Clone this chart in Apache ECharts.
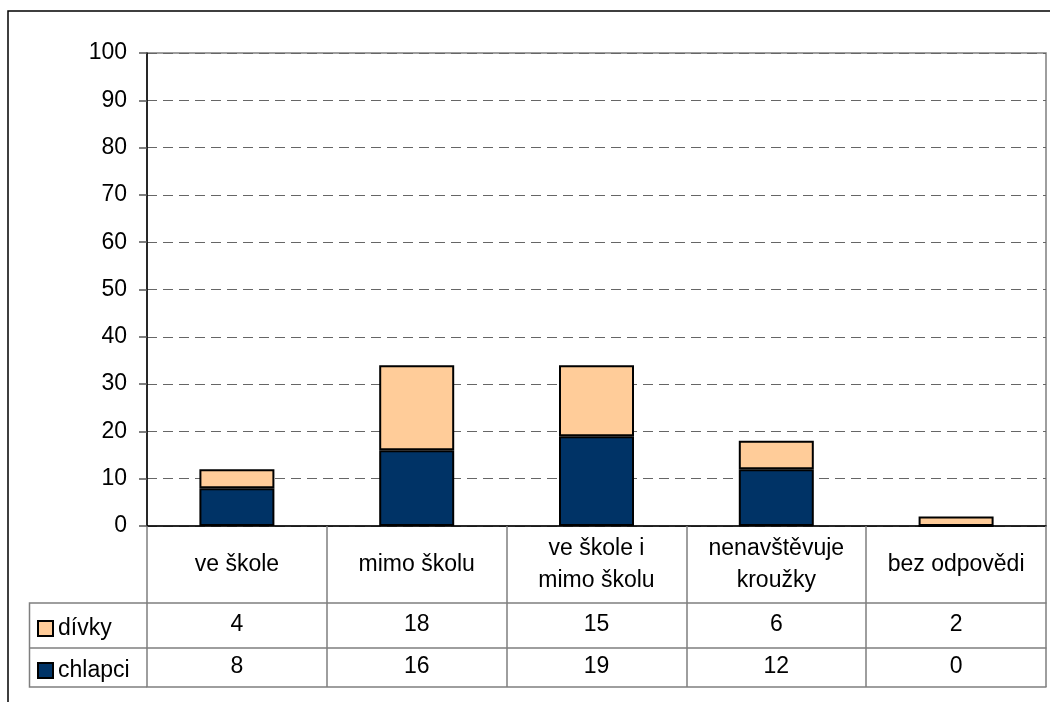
<!DOCTYPE html>
<html>
<head>
<meta charset="utf-8">
<script src="https://cdn.jsdelivr.net/npm/echarts@6/dist/echarts.min.js"></script>
<style>html,body{margin:0;padding:0;background:#fff}#c{width:1050px;height:702px}</style>
</head>
<body>
<div id="c"></div>
<script>
var categories = ['ve škole', 'mimo školu', 've škole i\nmimo školu', 'nenavštěvuje\nkroužky', 'bez odpovědi'];
var divky = [4, 18, 15, 6, 2];
var chlapci = [8, 16, 19, 12, 0];
var yTicks = {min: 0, max: 100, interval: 10};

var FONT = 'Liberation Sans, Arial, sans-serif';
var FS = 23;
var chart = echarts.init(document.getElementById('c'));
var gray = '#7f7f7f';

function tableAxis(offset, labels, margin, showLine) {
  return {
    type: 'category', gridIndex: 0, position: 'bottom', offset: offset,
    data: categories,
    axisLine: {show: showLine, lineStyle: {color: gray, width: 1.5}},
    axisTick: {show: false},
    axisLabel: labels ? {
      show: true, interval: 0, margin: margin, verticalAlign: 'middle',
      fontFamily: FONT, fontSize: FS, color: '#000',
      formatter: function (v, i) { return String(labels[i]); }
    } : {show: false},
    splitLine: {show: false}
  };
}

chart.setOption({
  animation: false,
  backgroundColor: '#fff',
  grid: {left: 147, right: 4, top: 53, bottom: 176, show: true, borderColor: gray, borderWidth: 1.5, containLabel: false},
  legend: {
    orient: 'vertical', left: 32, top: 612, itemGap: 19, padding: 5,
    itemWidth: 15, itemHeight: 15, icon: 'rect',
    data: ['dívky', 'chlapci'],
    textStyle: {fontFamily: FONT, fontSize: FS, color: '#000', padding: [0, 0, 0, 0]},
    selectedMode: false
  },
  xAxis: [
    {
      type: 'category', gridIndex: 0, position: 'bottom', data: categories,
      axisLine: {show: true, lineStyle: {color: '#000', width: 1.5}},
      axisTick: {show: true, interval: 0, length: 161, lineStyle: {color: gray, width: 1.5}},
      axisLabel: {show: true, interval: 0, margin: 39, verticalAlign: 'middle', fontFamily: FONT, fontSize: FS, color: '#000', lineHeight: 32, align: 'center'},
      splitLine: {show: false}
    },
    tableAxis(77, divky, 22, true),
    tableAxis(122, chlapci, 19, true),
    tableAxis(161, null, 0, true)
  ],
  yAxis: {
    type: 'value', min: yTicks.min, max: yTicks.max, interval: yTicks.interval,
    axisLine: {show: true, lineStyle: {color: '#000', width: 1.5}},
    axisTick: {show: true, length: 8, lineStyle: {color: '#555', width: 1.5}},
    axisLabel: {fontFamily: FONT, fontSize: FS, color: '#000', margin: 20},
    splitLine: {show: true, lineStyle: {color: '#666', width: 1, type: [10, 6]}}
  },
  series: [
    {
      name: 'chlapci', type: 'bar', stack: 's', data: chlapci, barWidth: 75,
      itemStyle: {color: '#003366', borderColor: '#000', borderWidth: 2}
    },
    {
      name: 'dívky', type: 'bar', stack: 's', data: divky, barWidth: 75,
      itemStyle: {color: '#FFCC99', borderColor: '#000', borderWidth: 2}
    }
  ],
  graphic: [
    {type: 'rect', shape: {x: 8, y: 11, width: 1200, height: 900}, style: {fill: 'none', stroke: '#000', lineWidth: 1.5}, z: 0},
    {type: 'polyline', shape: {points: [[147, 603], [29.5, 603], [29.5, 687], [147, 687]]}, style: {fill: 'none', stroke: gray, lineWidth: 1.5}},
    {type: 'line', shape: {x1: 29.5, y1: 648, x2: 147, y2: 648}, style: {stroke: gray, lineWidth: 1.5}}
  ]
});
</script>
</body>
</html>
